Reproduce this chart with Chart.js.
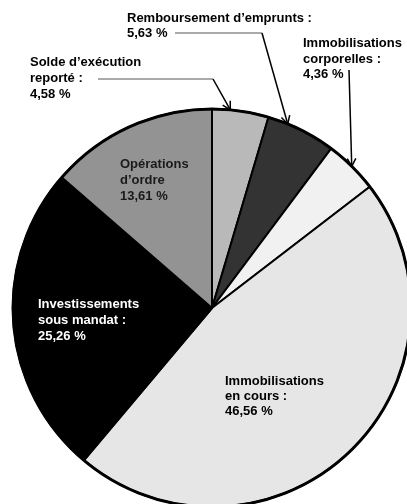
<!DOCTYPE html>
<html>
<head>
<meta charset="utf-8">
<script src="https://cdn.jsdelivr.net/npm/chart.js@4.4.1/dist/chart.umd.min.js"></script>
<style>
    html, body { margin: 0; padding: 0; background: #fff; overflow: hidden; width: 407px; height: 504px; }
    #wrap { position: absolute; left: 0; top: 0; }
</style>
</head>
<body>
<div id="wrap"><canvas id="pie" width="424" height="616"></canvas></div>
<script>
// Données du graphique
const categories = ["Solde d’exécution reporté", "Remboursement d’emprunts", "Immobilisations corporelles",
    "Immobilisations en cours", "Investissements sous mandat", "Opérations d’ordre"];
const shares = [4.58, 5.63, 4.36, 46.56, 25.26, 13.61];
const labelLines = [
    ["Solde d’exécution", "reporté :"],
    ["Remboursement d’emprunts :"],
    ["Immobilisations", "corporelles :"],
    ["Immobilisations", "en cours :"],
    ["Investissements", "sous mandat :"],
    ["Opérations", "d’ordre"]
];
const sliceColors = ['#b9b9b9', '#333333', '#f1f1f1', '#e6e6e6', '#000000', '#939393'];

// Mise en page des étiquettes (x, première ligne de base, interligne, couleur)
const labelPos = [
    { x: 30, y: 66, lh: 16, color: '#000' },
    { x: 127, y: 22, lh: 15, color: '#000' },
    { x: 303, y: 47, lh: 15.5, color: '#000' },
    { x: 225, y: 385, lh: 15, color: '#000' },
    { x: 38, y: 308, lh: 16, color: '#fff' },
    { x: 120, y: 168, lh: 16, color: '#1a1a1a' }
];
// Lignes de rappel : points de départ puis flèche vers l'arc
const leaders = [
    { index: 0, path: [[98, 79], [213, 79]], frac: 0.32 },
    { index: 1, path: [[175, 33], [262, 33]], frac: 0.29 },
    { index: 2, path: [[349, 70]], frac: 0.5 }
];

function formatShare(v) {
    return v.toFixed(2).replace('.', ',') + ' %';
}

const labelsPlugin = {
    id: 'labelsPlugin',
    afterDatasetsDraw(chart) {
        const ctx = chart.ctx;
        const arcs = chart.getDatasetMeta(0).data;

        // bord extérieur plus épais
        const a0 = arcs[0];
        ctx.save();
        ctx.beginPath();
        ctx.arc(a0.x, a0.y, a0.outerRadius, 0, Math.PI * 2);
        ctx.lineWidth = 3;
        ctx.strokeStyle = '#000';
        ctx.stroke();

        // textes
        ctx.font = 'bold 13px "Liberation Sans", Arial, sans-serif';
        ctx.textBaseline = 'alphabetic';
        ctx.textAlign = 'left';
        labelLines.forEach((lines, i) => {
            const p = labelPos[i];
            const all = lines.concat([formatShare(shares[i])]);
            ctx.fillStyle = p.color;
            all.forEach((t, k) => ctx.fillText(t, p.x, p.y + k * p.lh));
        });

        // flèches
        leaders.forEach(l => {
            const arc = arcs[l.index];
            const ang = arc.startAngle + l.frac * (arc.endAngle - arc.startAngle);
            const tx = arc.x + arc.outerRadius * Math.cos(ang);
            const ty = arc.y + arc.outerRadius * Math.sin(ang);
            const pts = l.path;
            if (pts.length > 1) {
                ctx.beginPath();
                ctx.moveTo(pts[0][0], pts[0][1]);
                ctx.lineTo(pts[1][0], pts[1][1]);
                ctx.lineWidth = 1;
                ctx.strokeStyle = '#555';
                ctx.stroke();
            }
            const last = pts[pts.length - 1];
            ctx.beginPath();
            ctx.moveTo(last[0], last[1]);
            ctx.lineTo(tx, ty);
            ctx.lineWidth = 1.5;
            ctx.strokeStyle = '#000';
            ctx.stroke();
            // pointe en V
            const dir = Math.atan2(ty - last[1], tx - last[0]);
            const len = 9, spread = 0.5;
            ctx.beginPath();
            ctx.moveTo(tx - len * Math.cos(dir - spread), ty - len * Math.sin(dir - spread));
            ctx.lineTo(tx, ty);
            ctx.lineTo(tx - len * Math.cos(dir + spread), ty - len * Math.sin(dir + spread));
            ctx.stroke();
        });
        ctx.restore();
    }
};

new Chart(document.getElementById('pie'), {
    type: 'pie',
    data: {
        labels: categories,
        datasets: [{
            data: shares,
            backgroundColor: sliceColors,
            borderColor: '#000',
            borderWidth: 2
        }]
    },
    options: {
        responsive: false,
        animation: false,
        devicePixelRatio: 1,
        radius: 199,
        layout: { padding: 0 },
        plugins: {
            legend: { display: false },
            tooltip: { enabled: false }
        }
    },
    plugins: [labelsPlugin]
});
</script>
</body>
</html>
